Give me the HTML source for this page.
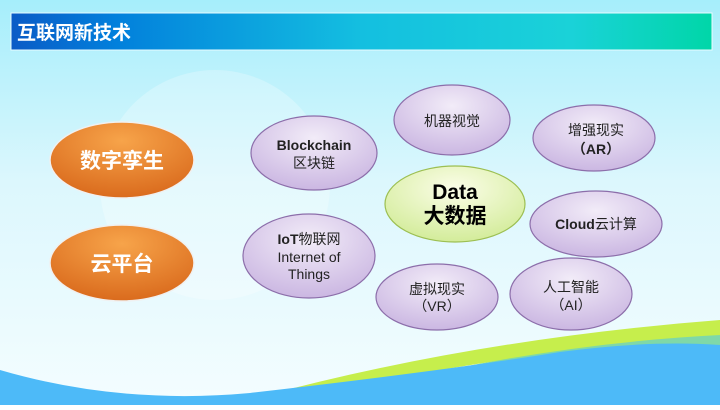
<!DOCTYPE html>
<html><head><meta charset="utf-8"><style>
body{margin:0;width:720px;height:405px;overflow:hidden;font-family:"Liberation Sans","Noto Sans CJK SC",sans-serif}
</style></head><body>
<svg width="720" height="405" viewBox="0 0 720 405" xmlns="http://www.w3.org/2000/svg" font-family="Liberation Sans, Noto Sans CJK SC, sans-serif">
<defs>
<linearGradient id="bg" x1="0" y1="0" x2="0" y2="1"><stop offset="0" stop-color="#a6eefb"/><stop offset="0.45" stop-color="#dcf7fd"/><stop offset="1" stop-color="#f4fdff"/></linearGradient>
<linearGradient id="tb" x1="0" y1="0" x2="1" y2="0"><stop offset="0" stop-color="#0a5bc6"/><stop offset="0.15" stop-color="#0280dc"/><stop offset="0.5" stop-color="#14bfe0"/><stop offset="0.8" stop-color="#1ad2d8"/><stop offset="1" stop-color="#00d6a8"/></linearGradient>
<radialGradient id="pu" cx="0.5" cy="0.3" r="0.7"><stop offset="0" stop-color="#f2ecf8"/><stop offset="1" stop-color="#cbb7e2"/></radialGradient>
<radialGradient id="gr" cx="0.5" cy="0.3" r="0.7"><stop offset="0" stop-color="#fbfde8"/><stop offset="1" stop-color="#d3ec9a"/></radialGradient>
<radialGradient id="or" cx="0.5" cy="0.25" r="0.8"><stop offset="0" stop-color="#f7a44a"/><stop offset="1" stop-color="#d8671a"/></radialGradient>
</defs>
<rect width="720" height="405" fill="url(#bg)"/>
<circle cx="215" cy="185" r="115" fill="#ffffff" opacity="0.25"/>
<path d="M230 405 Q460 340 720 320 L720 338 Q500 350 270 405Z" fill="#c6ee4c"/>
<path d="M300 405 Q520 345 720 335 L720 350 Q560 350 330 405Z" fill="#7fd8a8"/>
<path d="M0 370 Q120 405 250 393 Q450 370 560 352 Q650 340 720 345 L720 405 L0 405Z" fill="#4dbaf8"/>
<rect x="11" y="13" width="701" height="37" fill="url(#tb)" stroke="#e8fbff" stroke-width="1"/>
<text x="17" y="39" font-size="19" font-weight="bold" fill="#fff">互联网新技术</text>
<g stroke="#f0f0f0" stroke-width="1.5">
<ellipse cx="122" cy="160" rx="72" ry="38" fill="url(#or)"/>
<ellipse cx="122" cy="263" rx="72" ry="38" fill="url(#or)"/>
</g>
<g fill="url(#pu)" stroke="#8c6eaa" stroke-width="1.2">
<ellipse cx="314" cy="153" rx="63" ry="37"/>
<ellipse cx="452" cy="120" rx="58" ry="35"/>
<ellipse cx="594" cy="138" rx="61" ry="33"/>
<ellipse cx="596" cy="224" rx="66" ry="33"/>
<ellipse cx="309" cy="256" rx="66" ry="42"/>
<ellipse cx="437" cy="297" rx="61" ry="33"/>
<ellipse cx="571" cy="294" rx="61" ry="36"/>
</g>
<ellipse cx="455" cy="204" rx="70" ry="38" fill="url(#gr)" stroke="#9cbf52" stroke-width="1.2"/>
<g font-size="21" font-weight="bold" fill="#fff" text-anchor="middle">
<text x="122" y="168">数字孪生</text>
<text x="122" y="271">云平台</text>
</g>
<g font-size="14" fill="#222" text-anchor="middle">
<text x="314" y="150" font-weight="bold">Blockchain</text>
<text x="314" y="168">区块链</text>
<text x="452" y="126">机器视觉</text>
<text x="596" y="135">增强现实</text>
<text x="596" y="154" font-weight="bold">（AR）</text>
<text x="596" y="229" font-weight="bold">Cloud<tspan font-weight="normal">云计算</tspan></text>
<text x="309" y="244" font-weight="bold">IoT<tspan font-weight="normal">物联网</tspan></text>
<text x="309" y="262">Internet of</text>
<text x="309" y="279">Things</text>
<text x="437" y="294">虚拟现实</text>
<text x="437" y="311">（VR）</text>
<text x="571" y="292">人工智能</text>
<text x="571" y="310">（AI）</text>
</g>
<g font-size="21" font-weight="bold" fill="#000" text-anchor="middle">
<text x="455" y="199">Data</text>
<text x="455" y="223">大数据</text>
</g>
</svg>
</body></html>
